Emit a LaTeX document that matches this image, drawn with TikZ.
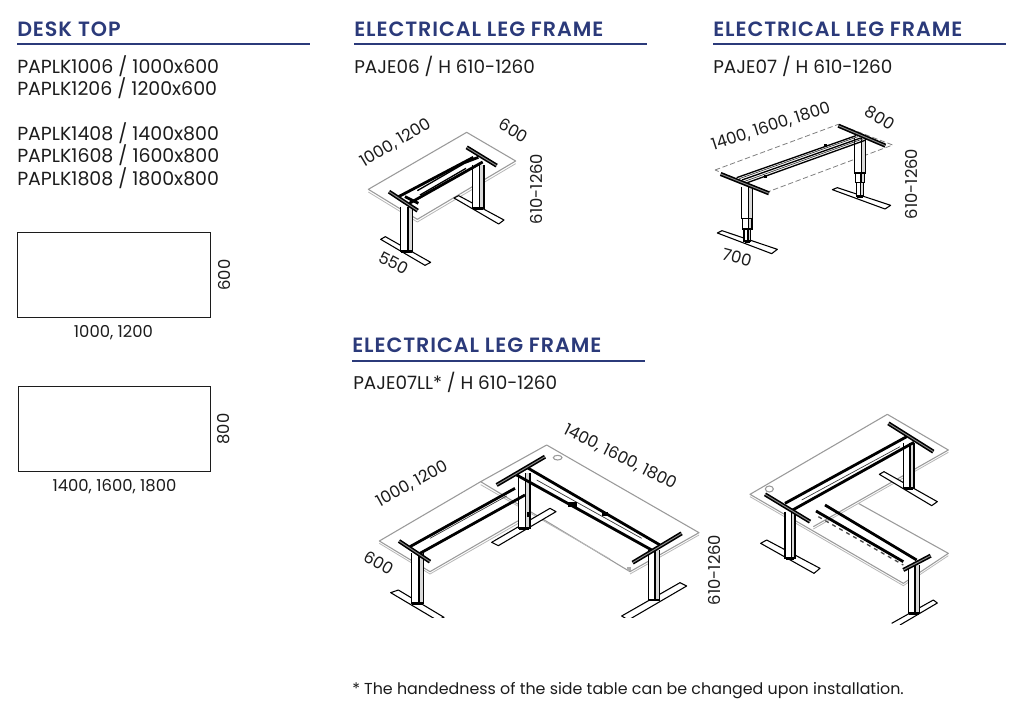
\documentclass[tikz,border=0pt]{standalone}
\usepackage{fontspec}
\setmainfont{Poppins}
\newfontfamily\headfont[LetterSpace=4.5]{Poppins SemiBold}
\definecolor{navy}{HTML}{2B3A7A}
\definecolor{ink}{HTML}{1C1C1C}
\definecolor{edge}{HTML}{9A9A9A}
\tikzset{
  head/.style={anchor=base west,inner sep=0pt,text=navy,font=\headfont\fontsize{15.5}{15.5}\selectfont},
  body/.style={anchor=base west,inner sep=0pt,text=ink,font=\fontsize{14.2}{14.2}\selectfont},
  capt/.style={anchor=base west,inner sep=0pt,text=ink,font=\fontsize{13.8}{13.8}\selectfont},
  dim/.style={inner sep=0pt,text=ink,font=\fontsize{12.3}{12.3}\selectfont},
  rule/.style={navy,line width=1.8pt},
  panel/.style={draw=ink,line width=0.7pt},
  topedge/.style={draw=edge,line width=0.8pt,line join=round},
  faint/.style={draw=edge!70,line width=0.6pt},
  dashedge/.style={draw=gray,line width=0.6pt,dash pattern=on 4pt off 2pt},
  heavy/.style={draw=black,line width=2.1pt},
  medium/.style={draw=black,line width=1pt},
  fine/.style={draw=black!80,line width=0.5pt},
  strip/.style={draw=black,line width=1.2pt,double=black!45,double distance=0.7pt},
  foot/.style={draw=black,fill=white,line width=0.8pt,line join=round},
  zoomA/.style={shift={(340,100)},x=0.25pt,y=-0.25pt},
  zoomB/.style={shift={(700,95)},x=0.25pt,y=-0.25pt},
  zoomC/.style={shift={(350,410)},x=0.25pt,y=-0.25pt},
  zoomD/.style={shift={(740,405)},x=0.25pt,y=-0.25pt},
}
% one telescopic section: left x, right x, top y, bottom y (in zoomed coordinates)
\newcommand{\legseg}[4]{%
  \fill[white] (#1,#3) rectangle (#2,#4);
  \fill[black!15] ({#1+(#2-#1)*0.62},#3) rectangle (#2,#4);
  \draw[medium] (#1,#3) -- (#1,#4) -- (#2,#4) -- (#2,#3);
  \draw[medium] ({#1+(#2-#1)*0.62},#3) -- ({#1+(#2-#1)*0.62},#4);
}
% a whole leg, with its dark base
\newcommand{\legat}[4]{%
  \legseg{#1}{#2}{#3}{#4}
  \fill[black] ({#1+2},{#4-4}) rectangle ({#2-2},{#4+4});
}
\begin{document}
\begin{tikzpicture}[x=0.75pt,y=-0.75pt]
\useasboundingbox (0,0) rectangle (1024,727);
\fill[white] (0,0) rectangle (1024,727);

% ---------- headings ----------
\node[head] (h1) at (17,36.5) {DESK TOP};
\draw[rule] (17,44) -- (310,44);
\node[head] (h2) at (354,36.5) {ELECTRICAL LEG FRAME};
\draw[rule] (354,44) -- (647,44);
\node[head] (h3) at (713,36.5) {ELECTRICAL LEG FRAME};
\draw[rule] (713,44) -- (1006,44);
\node[head] (h4) at (352,352.5) {ELECTRICAL LEG FRAME};
\draw[rule] (352,361) -- (645,361);

% ---------- left column ----------
\node[body] (t1) at (17,73.5) {PAPLK1006 / 1000x600};
\node[body] (t2) at (17,95.5) {PAPLK1206 / 1200x600};
\node[body] (t3) at (17,141) {PAPLK1408 / 1400x800};
\node[body] (t4) at (17,163) {PAPLK1608 / 1600x800};
\node[body] (t5) at (17,186) {PAPLK1808 / 1800x800};
\draw[panel] (17.5,232.5) rectangle (210.5,317.5);
\draw[panel] (18.5,386.5) rectangle (210.5,471.5);
\node[dim] (w1) at (113.5,332.5) {1000, 1200};
\node[dim,rotate=90] (s1) at (224,275) {600};
\node[dim] (w2) at (114.5,486.5) {1400, 1600, 1800};
\node[dim,rotate=90] (s2) at (224,429) {800};

% ---------- other captions ----------
\node[capt] (c1) at (354,73.5) {PAJE06 / H 610-1260};
\node[capt] (c2) at (713,73.5) {PAJE07 / H 610-1260};
\node[capt] (c3) at (353,389.5) {PAJE07LL* / H 610-1260};
\node[anchor=base west,inner sep=0pt,text=ink,font=\fontsize{11.9}{11.9}\selectfont] (note) at (352,694) {* The handedness of the side table can be changed upon installation.};

% ---------- frame A ----------
\begin{scope}[zoomA]
  \draw[topedge,fill=white] (380,97) -- (527,183) -- (232,358) -- (85,268) -- cycle;
  \draw[faint] (85,276) -- (232,366) -- (527,191);
  \draw[foot] (342,294) -- (356,287) -- (492,360) -- (476,372) -- cycle;
  \legat{398}{432}{195}{325}
  \draw[foot] (122,418) -- (136,410) -- (272,487) -- (255,496) -- cycle;
  \legat{182}{218}{320}{455}
  \draw[heavy] (172,292) -- (400,172);
  \draw[heavy] (208,310) -- (428,186);
  \draw[medium] (232,272) -- (370,192);
  \draw[medium] (240,285) -- (378,205);
  \draw[heavy] (195,290) -- (235,310);
  \draw[heavy] (368,190) -- (415,172);
  \draw[strip] (380,142) -- (470,197);
  \draw[strip] (147,275) -- (233,332);
\end{scope}
\node[dim,rotate=31] (a1) at (395.5,143) {1000, 1200};
\node[dim,rotate=-30] (a2) at (513.5,130.5) {600};
\node[dim,rotate=90] (a3) at (536,189) {610-1260};
\node[dim,rotate=-28] (a4) at (393.5,263) {550};

% ---------- frame B ----------
\begin{scope}[zoomB]
  \draw[dashedge] (45,225) -- (415,88) -- (578,150) -- (205,290) -- cycle;
  \draw[foot] (397,284) -- (412,278) -- (572,331) -- (555,342) -- cycle;
  \legat{470}{490}{260}{305}
  \legseg{466}{494}{232}{262}
  \legseg{463}{497}{130}{234}
  \draw[foot] (52,414) -- (66,407) -- (232,463) -- (215,476) -- cycle;
  \legat{132}{152}{400}{440}
  \legseg{128}{156}{368}{402}
  \legseg{125}{158}{275}{370}
  \draw[medium] (110,248) -- (468,122);
  \draw[fine] (118,251) -- (474,125);
  \draw[medium] (126,255) -- (482,129);
  \draw[fine] (134,259) -- (488,132);
  \draw[medium] (142,263) -- (495,136);
  \draw[strip] (62,237) -- (207,295);
  \draw[strip] (415,92) -- (556,152);
  \fill[black] (372,147) rectangle (380,157);
  \fill[black] (192,240) rectangle (200,250);
\end{scope}
\node[dim,rotate=18] (b1) at (771,126.5) {1400, 1600, 1800};
\node[dim,rotate=-32] (b2) at (880,118) {800};
\node[dim,rotate=90] (b3) at (911,184) {610-1260};
\node[dim,rotate=-15] (b4) at (737,257.5) {700};

% ---------- frame C ----------
\begin{scope}[zoomC]
  \draw[topedge,fill=white] (590,105) -- (1047,368) -- (840,485) -- (392,215) -- cycle;
  \draw[faint] (392,224) -- (780,447);
  \draw[topedge] (392,215) -- (88,393) -- (240,485) -- (505,332);
  \draw[faint] (88,400) -- (240,492) -- (505,340);
  \draw[faint] (840,492) -- (1047,375);
  \fill[edge!80] (832,472) rectangle (842,484);
  \draw[edge,line width=0.8pt] (623,143) ellipse (13 and 7);
  \draw[foot] (425,397) -- (600,295) -- (618,305) -- (445,407) -- cycle;
  \legat{505}{540}{190}{355}
  \fill[black] (530,305) rectangle (540,320);
  \draw[foot] (122,548) -- (145,540) -- (282,622) -- (260,630) -- cycle;
  \legat{185}{220}{430}{580}
  \draw[foot] (815,618) -- (990,518) -- (1010,528) -- (835,630) -- cycle;
  \legat{895}{928}{420}{570}
  \fill[white] (100,625) rectangle (1040,650);
  \draw[heavy] (180,410) -- (495,235);
  \draw[heavy] (210,430) -- (525,255);
  \draw[fine] (240,385) -- (470,258);
  \draw[strip] (147,393) -- (240,455);
  \draw[heavy] (500,195) -- (905,420);
  \draw[heavy] (530,172) -- (930,405);
  \draw[fine] (560,210) -- (875,385);
  \draw[strip] (440,225) -- (585,140);
  \draw[strip] (848,458) -- (995,370);
  \fill[black] (655,275) rectangle (680,292);
  \fill[black] (755,305) rectangle (775,318);
\end{scope}
\node[dim,rotate=29] (c4) at (412,484) {1000, 1200};
\node[dim,rotate=-27] (c5) at (620,457) {1400, 1600, 1800};
\node[dim,rotate=-30] (c6) at (379,563) {600};
\node[dim,rotate=90] (c7) at (714,570) {610-1260};

% ---------- frame D ----------
\begin{scope}[zoomD]
  \draw[topedge,fill=white] (442,28) -- (625,135) -- (220,365);
  \draw[topedge] (442,28) -- (30,268) -- (490,535) -- (625,445) -- (355,295);
  \draw[faint] (30,275) -- (490,542) -- (625,452);
  \draw[faint] (625,142) -- (220,372);
  \draw[edge,line width=0.8pt] (88,252) ellipse (12 and 9);
  \draw[foot] (418,208) -- (432,200) -- (592,290) -- (575,302) -- cycle;
  \legat{490}{522}{115}{250}
  \draw[foot] (62,415) -- (80,405) -- (240,490) -- (222,505) -- cycle;
  \legat{135}{165}{320}{460}
  \draw[foot] (455,655) -- (580,585) -- (592,594) -- (480,660);
  \legat{505}{538}{480}{625}
  \fill[white] (440,660) rectangle (620,680);
  \draw[heavy] (135,295) -- (500,95);
  \draw[heavy] (158,315) -- (522,112);
  \draw[fine] (185,285) -- (480,125);
  \draw[strip] (445,55) -- (580,140);
  \draw[strip] (75,268) -- (210,350);
  \draw[heavy] (228,318) -- (490,470);
  \draw[heavy] (255,300) -- (530,465);
  \draw[draw=black!70,line width=1pt,dash pattern=on 3pt off 3pt] (235,335) -- (490,480);
  \draw[strip] (490,495) -- (572,452);
\end{scope}
\end{tikzpicture}
\end{document}
